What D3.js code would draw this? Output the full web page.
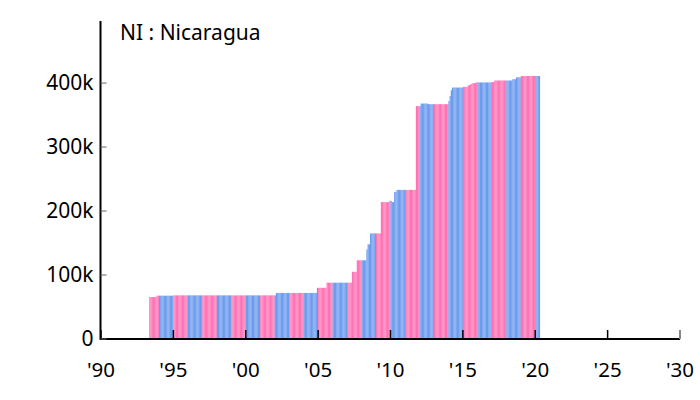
<!DOCTYPE html>
<html><head><meta charset="utf-8">
<script src="https://cdn.jsdelivr.net/npm/d3@7"></script>
<style>
body{margin:0;background:#fff;}
svg{display:block;font-family:"Noto Sans",sans-serif;}
</style></head>
<body><svg id="chart" width="700" height="400"></svg>
<script>
const title = "NI : Nicaragua";
const years = [1991,1992,1993,1994,1995,1996,1997,1998,1999,2000,2001,2002,2003,2004,2005,2006,2007,2008,2009,2010,2011,2012,2013,2014,2015,2016,2017,2018,2019,2020];
// monthly values in thousands (Jan..Dec), null = no data
const values = [
 [null,null,null,null,0.2,0.2,0.2,0.2,0.2,0.2,0.2,0.2],
 [0.2,0.2,0.2,0.2,0.2,0.2,0.2,0.2,0.2,0.2,0.2,0.2],
 [0.2,0.2,0.2,0.2,65.6,65.6,65.6,65.6,65.6,65.6,67.7,67.7],
 [67.7,67.7,67.7,67.7,67.7,67.7,67.7,67.7,67.7,67.7,67.7,67.7],
 [68.2,68.2,68.2,68.2,68.2,68.2,68.2,68.2,68.2,68.2,68.2,68.2],
 [68.2,68.2,68.2,68.2,68.2,68.2,68.2,68.2,68.2,68.2,68.2,68.2],
 [68.2,68.2,68.2,68.2,68.2,68.2,68.2,68.2,68.2,68.2,68.2,68.2],
 [68.2,68.2,68.2,68.2,68.2,68.2,68.2,68.2,68.2,68.2,68.2,68.2],
 [68.2,68.2,68.2,68.2,68.2,68.2,68.2,68.2,68.2,68.2,68.2,68.2],
 [68.2,68.2,68.2,68.2,68.2,68.2,68.2,68.2,68.2,68.2,68.2,68.2],
 [68.2,68.2,68.2,68.2,68.2,68.2,68.2,68.2,68.2,68.2,68.2,68.2],
 [68.2,72,72,72,72,72,72,72,72,72,72,72],
 [72,72,72,72,72,72,72,72,72,72,72,72],
 [72,72,72,72,72,72,72,72,72,72,72,80],
 [80,80,80,80,80,80,80,88,88,88,88,88],
 [88,88,88,88,88,88,88,88,88,88,88,88],
 [88,88,88,88,105,105,105,105,123,123,123,123],
 [123,123,123,123,140,148,148,165,165,165,165,165],
 [165,165,165,165,214,214,214,214,214,214,214,216],
 [216,214,214,230,230,233,233,233,233,233,233,233],
 [233,233,233,233,233,233,233,233,233,364,364,364],
 [364,368,368,368,368,368,368,367,367,367,367,367],
 [367,367,367,367,367,367,367,367,367,367,367,367],
 [372,380,389,393,393,393,393,393,393,393,393,393],
 [394,394,394,394,396,397,398,399,400,400,400,401],
 [401,401,401,401,401,401,401,401,401,401,401,401],
 [401.5,401.5,404,404,404,404,404,404,404,404,404,404],
 [404,404,404,404,404,406,406,406,409,409,409,409],
 [411,411,411,411,411,411,411,411,411,411,411,411],
 [411,411,411,411,null,null,null,null,null,null,null,null]
];
const xTicks = [1990,1995,2000,2005,2010,2015,2020,2025,2030];
const xTickLabels = ["'90","'95","'00","'05","'10","'15","'20","'25","'30"];
const yTicks = [0,100,200,300,400];
const yTickLabels = ["0","100k","200k","300k","400k"];
const colorOdd = "#ff73b5", colorEven = "#6d9cee";

const svg = d3.select("#chart");
const x = d3.scaleLinear().domain([1990,2030]).range([101,680]);
const y = d3.scaleLinear().domain([0,497]).range([339,21]);

const bars = [];
years.forEach((yr,i)=>values[i].forEach((v,m)=>{ if(v!==null) bars.push({yr,m,v}); }));

svg.append("g").selectAll("rect").data(bars).join("rect")
  .attr("x",d=>x(d.yr+d.m/12))
  .attr("width",d=>x(d.yr+(d.m+1)/12)-x(d.yr+d.m/12))
  .attr("y",d=>y(d.v))
  .attr("height",d=>y(0)-y(d.v))
  .attr("fill",d=>d.yr%2? colorOdd: colorEven);

// x axis
const gx = svg.append("g").attr("transform","translate(0,339)");
gx.append("line").attr("x1",100).attr("x2",680).attr("stroke","#000").attr("stroke-width",2);
gx.selectAll("line.t").data(xTicks).join("line").attr("class","t")
  .attr("x1",d=>x(d)).attr("x2",d=>x(d)).attr("y1",0).attr("y2",-9)
  .attr("stroke",(d,i)=>i===xTicks.length-1?"#888":"#000").attr("stroke-width",(d,i)=>i===xTicks.length-1?2:1.5);
gx.selectAll("text").data(xTicks).join("text")
  .attr("x",d=>x(d)).attr("y",38).attr("text-anchor","middle")
  .attr("font-size",20.5).attr("fill","#000").text((d,i)=>xTickLabels[i]);

// y axis
const gy = svg.append("g").attr("transform","translate(100.5,0)");
gy.append("line").attr("y1",21).attr("y2",340).attr("stroke","#000").attr("stroke-width",2);
gy.selectAll("line.t").data(yTicks).join("line").attr("class","t")
  .attr("x1",0).attr("x2",6).attr("y1",d=>y(d)).attr("y2",d=>y(d))
  .attr("stroke","#666").attr("stroke-width",1);
gy.selectAll("text").data(yTicks).join("text")
  .attr("x",-7).attr("y",d=>y(d)).attr("dy","0.35em").attr("text-anchor","end")
  .attr("font-size",21).attr("fill","#000").text((d,i)=>yTickLabels[i]);

svg.append("text").attr("x",120).attr("y",40).attr("font-size",21).attr("fill","#000").text(title);
</script></body></html>
